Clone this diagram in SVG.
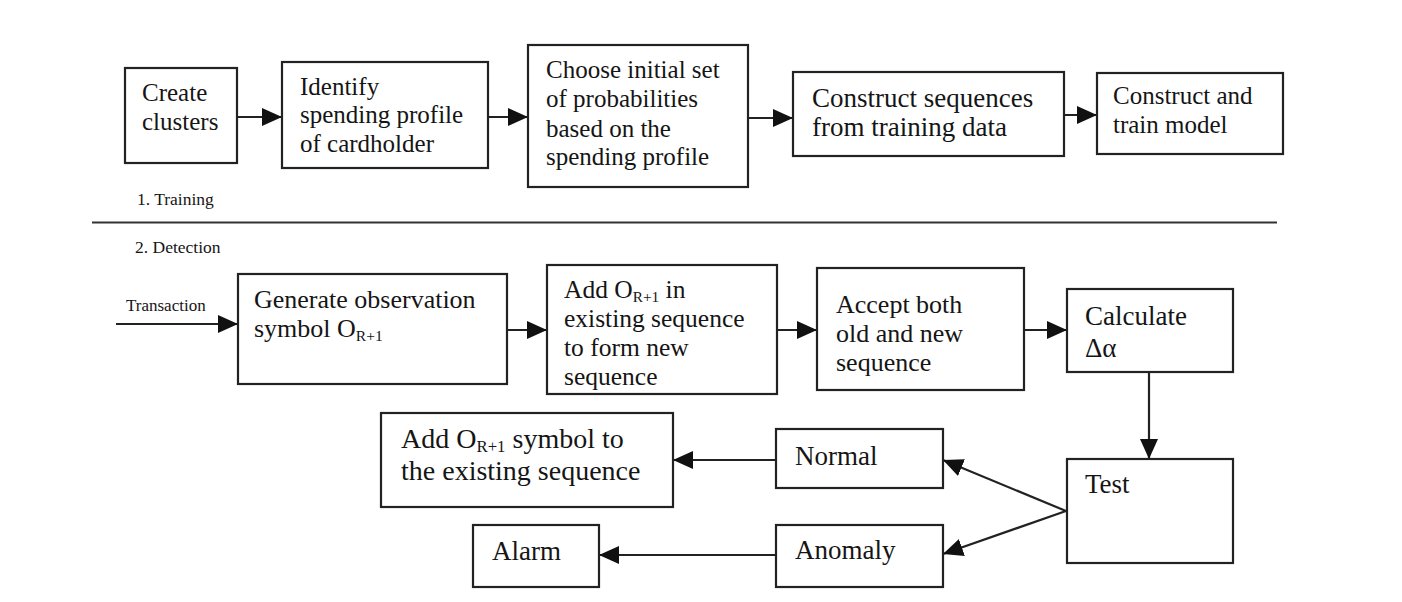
<svg xmlns="http://www.w3.org/2000/svg" width="1402" height="602" viewBox="0 0 1402 602">
<style>
.box{fill:#fff;stroke:#222;stroke-width:2.2}
.t{font-family:"Liberation Serif","Times New Roman",serif;fill:#151515}
.s{font-size:60%}
.ln{stroke:#222;stroke-width:2.2;fill:none}
</style>
<defs>
<marker id="ah" markerUnits="userSpaceOnUse" markerWidth="22" markerHeight="22" refX="20" refY="10" orient="auto">
<path d="M0,1 L20,10 L0,19 z" fill="#111"/>
</marker>
</defs>
<rect width="1402" height="602" fill="#fff"/>

<g id="connectors">
<line class="ln" x1="237" y1="117" x2="282" y2="117" marker-end="url(#ah)"/>
<line class="ln" x1="488" y1="117" x2="528" y2="117" marker-end="url(#ah)"/>
<line class="ln" x1="748" y1="118" x2="793" y2="118" marker-end="url(#ah)"/>
<line class="ln" x1="1064" y1="115" x2="1097" y2="115" marker-end="url(#ah)"/>
<line class="ln" x1="116" y1="324" x2="238" y2="324" marker-end="url(#ah)"/>
<line class="ln" x1="507" y1="330" x2="547" y2="330" marker-end="url(#ah)"/>
<line class="ln" x1="777" y1="330" x2="817" y2="330" marker-end="url(#ah)"/>
<line class="ln" x1="1024" y1="330" x2="1067" y2="330" marker-end="url(#ah)"/>
<line class="ln" x1="1149" y1="372" x2="1149" y2="459" marker-end="url(#ah)"/>
<line class="ln" x1="1066" y1="511" x2="943" y2="460" marker-end="url(#ah)"/>
<line class="ln" x1="1066" y1="511" x2="943" y2="554" marker-end="url(#ah)"/>
<line class="ln" x1="776" y1="460" x2="673" y2="460" marker-end="url(#ah)"/>
<line class="ln" x1="776" y1="555" x2="599" y2="555" marker-end="url(#ah)"/>
</g>

<g id="divider">
<line x1="92" y1="222.5" x2="1277" y2="222.5" stroke="#333" stroke-width="2.2"/>
<text class="t" x="137" y="205" font-size="17.5">1. Training</text>
<text class="t" x="135" y="253" font-size="17.5">2. Detection</text>
<text class="t" x="126" y="311" font-size="17">Transaction</text>
</g>

<g id="create-clusters">
<rect class="box" x="125" y="68" width="112" height="95"/>
<text class="t" font-size="25" x="142" y="101">Create</text>
<text class="t" font-size="25" x="142" y="130">clusters</text>
</g>

<g id="identify-profile">
<rect class="box" x="282" y="62" width="206" height="106"/>
<text class="t" font-size="25" x="300" y="95">Identify</text>
<text class="t" font-size="25" x="300" y="123">spending profile</text>
<text class="t" font-size="25" x="300" y="152">of cardholder</text>
</g>

<g id="choose-probabilities">
<rect class="box" x="528" y="45" width="220" height="142"/>
<text class="t" font-size="25" x="546" y="78">Choose initial set</text>
<text class="t" font-size="25" x="546" y="107">of probabilities</text>
<text class="t" font-size="25" x="546" y="137">based on the</text>
<text class="t" font-size="25" x="546" y="165">spending profile</text>
</g>

<g id="construct-sequences">
<rect class="box" x="793" y="72" width="271" height="84"/>
<text class="t" font-size="27" x="812" y="107">Construct sequences</text>
<text class="t" font-size="27" x="812" y="136">from training data</text>
</g>

<g id="construct-train">
<rect class="box" x="1097" y="73" width="186" height="81"/>
<text class="t" font-size="25" x="1113" y="104">Construct and</text>
<text class="t" font-size="25" x="1113" y="133">train model</text>
</g>

<g id="generate-symbol">
<rect class="box" x="238" y="274" width="269" height="110"/>
<text class="t" font-size="26" x="254" y="308">Generate observation</text>
<text class="t" font-size="26" x="254" y="337">symbol O<tspan class="s" dy="4">R+1</tspan></text>
</g>

<g id="add-symbol-sequence">
<rect class="box" x="547" y="265" width="230" height="129"/>
<text class="t" font-size="25.5" x="564" y="298">Add O<tspan class="s" dy="4">R+1</tspan><tspan dy="-4"> in</tspan></text>
<text class="t" font-size="25.5" x="564" y="327">existing sequence</text>
<text class="t" font-size="25.5" x="564" y="356">to form new</text>
<text class="t" font-size="25.5" x="564" y="385">sequence</text>
</g>

<g id="accept-both">
<rect class="box" x="817" y="268" width="207" height="122"/>
<text class="t" font-size="26" x="836" y="313">Accept both</text>
<text class="t" font-size="26" x="836" y="342">old and new</text>
<text class="t" font-size="26" x="836" y="371">sequence</text>
</g>

<g id="calculate">
<rect class="box" x="1067" y="289" width="166" height="83"/>
<text class="t" font-size="27" x="1085" y="325">Calculate</text>
<text class="t" font-size="27" x="1085" y="357">Δα</text>
</g>

<g id="test">
<rect class="box" x="1067" y="459" width="166" height="104"/>
<text class="t" font-size="27" x="1085" y="493">Test</text>
</g>

<g id="normal">
<rect class="box" x="776" y="429" width="167" height="59"/>
<text class="t" font-size="27" x="795" y="465">Normal</text>
</g>

<g id="anomaly">
<rect class="box" x="776" y="525" width="167" height="62"/>
<text class="t" font-size="27" x="795" y="559">Anomaly</text>
</g>

<g id="add-to-existing">
<rect class="box" x="381" y="413" width="292" height="94"/>
<text class="t" font-size="28" x="401" y="448">Add O<tspan class="s" dy="4">R+1</tspan><tspan dy="-4"> symbol to</tspan></text>
<text class="t" font-size="28" x="401" y="480">the existing sequence</text>
</g>

<g id="alarm">
<rect class="box" x="473" y="525" width="126" height="62"/>
<text class="t" font-size="27" x="492" y="560">Alarm</text>
</g>
</svg>
